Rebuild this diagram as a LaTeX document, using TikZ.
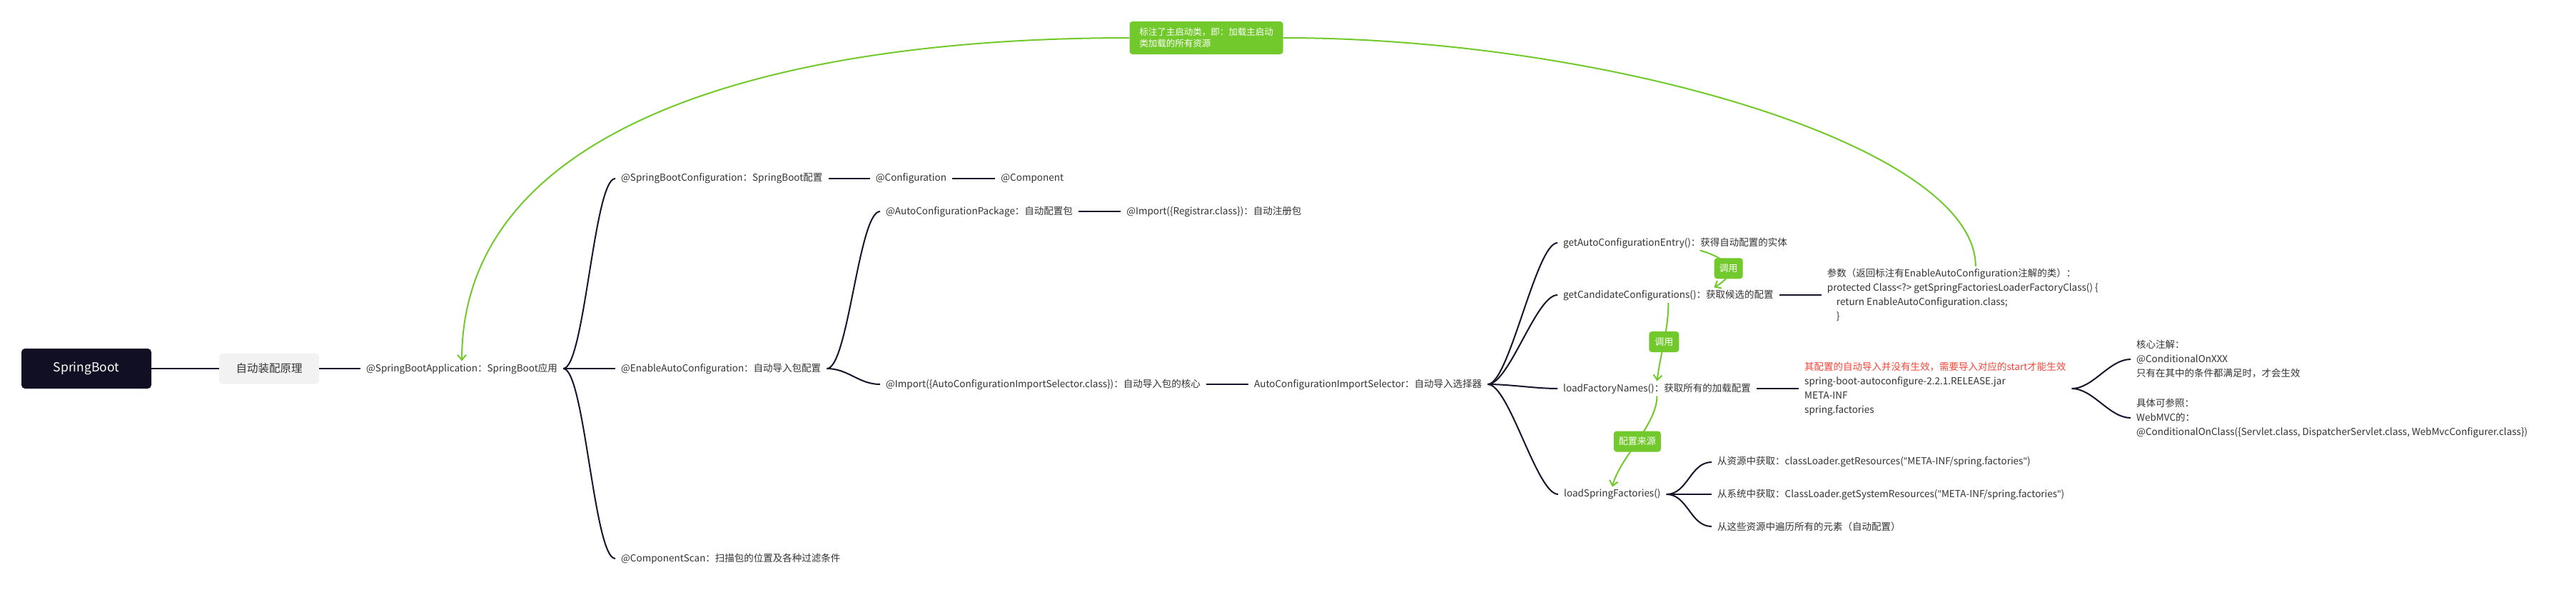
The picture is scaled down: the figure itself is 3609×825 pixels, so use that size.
\documentclass[tikz,border=0pt]{standalone}
\usepackage{fontspec}
\setmainfont{Noto Sans CJK SC}
\newfontfamily\quotefont{Noto Sans}
\newcommand\dquote{{\quotefont"}}
\usepackage{tikz}
\usetikzlibrary{positioning,arrows.meta}
\definecolor{ink}{HTML}{16152B}
\definecolor{rootbg}{HTML}{100F24}
\definecolor{themebg}{HTML}{F2F2F2}
\definecolor{txt}{HTML}{333333}
\definecolor{relgreen}{HTML}{72C92B}
\definecolor{warn}{HTML}{F4473A}
\tikzset{>={Straight Barb[length=7pt,width=12pt]}}
\tikzset{
  topic/.style={anchor=west, align=left, text=txt, inner xsep=8pt, inner ysep=3pt,
    font=\fontsize{13.5}{20}\selectfont},
  rootbox/.style={fill=rootbg, text=white, rounded corners=5pt, minimum width=182pt,
    minimum height=56pt, font=\fontsize{17.5}{20}\selectfont},
  themebox/.style={fill=themebg, text=txt, rounded corners=6pt, minimum width=140pt,
    minimum height=43pt, font=\fontsize{15.5}{20}\selectfont},
  trunk/.style={draw=ink, line width=2.6pt},
  branch/.style={draw=ink, line width=2pt},
  rel/.style={draw=relgreen, line width=2pt},
  tag/.style={fill=relgreen, text=white, rounded corners=4pt, inner sep=0pt,
    minimum height=29pt, font=\fontsize{13}{16}\selectfont},
}

\begin{document}
\begin{tikzpicture}[x=1pt,y=-1pt]
  \useasboundingbox[fill=white] (0,0) rectangle (3609,825);

  % Trunk
  \node[rootbox]  (root)  at (121,516) {SpringBoot};
  \node[themebox] (theme) at (377,516) {自动装配原理};
  \node[topic]    (app)   at (505,516) {@SpringBootApplication：SpringBoot应用};

  % Annotations of the application
  \node[topic] (sbconf) at (862,250) {@SpringBootConfiguration：SpringBoot配置};
  \node[topic, right=58pt of sbconf] (conf) {@Configuration};
  \node[topic, right=60pt of conf]   (comp) {@Component};
  \node[topic] (enable) at (862,516) {@EnableAutoConfiguration：自动导入包配置};
  \node[topic] (scan)   at (862,782) {@ComponentScan：扫描包的位置及各种过滤条件};

  \node[topic] (acpkg)     at (1233,296) {@AutoConfigurationPackage：自动配置包};
  \node[topic, right=59pt of acpkg] (registrar) {@Import(\{Registrar.class\})：自动注册包};
  \node[topic] (importsel) at (1233,538) {@Import(\{AutoConfigurationImportSelector.class\})：自动导入包的核心};
  \node[topic, right=59pt of importsel] (selector) {AutoConfigurationImportSelector：自动导入选择器};

  % Selector methods
  \node[topic] (entry) at (2182,340) {getAutoConfigurationEntry()：获得自动配置的实体};
  \node[topic] (cand)  at (2182,413) {getCandidateConfigurations()：获取候选的配置};
  \node[topic] (lfn)   at (2182,544) {loadFactoryNames()：获取所有的加载配置};
  \node[topic] (lsf)   at (2183,692) {loadSpringFactories()};

  \node[topic, right=59pt of cand] (param) {参数（返回标注有EnableAutoConfiguration注解的类）：\\
    protected Class<?> getSpringFactoriesLoaderFactoryClass() \{\\
    \hspace*{13pt}return EnableAutoConfiguration.class;\\
    \hspace*{13pt}\}};
  \node[topic, right=59pt of lfn] (jar) {\textcolor{warn}{其配置的自动导入并没有生效，需要导入对应的start才能生效}\\
    spring-boot-autoconfigure-2.2.1.RELEASE.jar\\
    META-INF\\
    spring.factories};
  \node[topic] (core)  at (2985,503) {核心注解：\\@ConditionalOnXXX\\只有在其中的条件都满足时，才会生效};
  \node[topic] (refer) at (2985,585) {具体可参照：\\WebMVC的：\\@ConditionalOnClass(\{Servlet.class, DispatcherServlet.class, WebMvcConfigurer.class\})};

  \node[topic] (res1) at (2398,647) {从资源中获取：classLoader.getResources(\dquote META-INF/spring.factories\dquote)};
  \node[topic] (res2) at (2398,692) {从系统中获取：ClassLoader.getSystemResources(\dquote META-INF/spring.factories\dquote)};
  \node[topic] (res3) at (2398,737) {从这些资源中遍历所有的元素（自动配置）};

  % Edges
  \draw[trunk] (root) -- (theme);
  \draw[trunk] (theme) -- (app);
  \foreach \c in {sbconf,enable,scan}
    \draw[branch] (app.east) .. controls +(30,0) and +(-30,0) .. (\c.west);
  \draw[branch] (sbconf) -- (conf);
  \draw[branch] (conf) -- (comp);
  \foreach \c in {acpkg,importsel}
    \draw[branch] (enable.east) .. controls +(30,0) and +(-30,0) .. (\c.west);
  \draw[branch] (acpkg) -- (registrar);
  \draw[branch] (importsel) -- (selector);
  \foreach \c in {entry,cand,lfn,lsf}
    \draw[branch] (selector.east) .. controls +(30,0) and +(-30,0) .. (\c.west);
  \draw[branch] (cand) -- (param);
  \draw[branch] (lfn) -- (jar);
  \foreach \c in {core,refer}
    \draw[branch] (jar.east) .. controls +(30,0) and +(-30,0) .. (\c.west);
  \foreach \c in {res1,res2,res3}
    \draw[branch] (lsf.east) .. controls +(30,0) and +(-30,0) .. (\c.west);

  % Relations
  \draw[rel, ->] ([xshift=35pt]entry.south) .. controls +(50,15) and +(30,-17) .. ([xshift=64pt]cand.north)
    node[tag, pos=0.5, minimum width=40pt] (call1) {调用};
  \draw[rel, ->] (cand.south) .. controls +(0,40) and +(5,-40) .. (lfn.north)
    node[tag, pos=0.5, minimum width=42pt] (call2) {调用};
  \draw[rel, ->] (lfn.south) .. controls +(0,40) and +(10,-40) .. (lsf.north)
    node[tag, pos=0.5, minimum width=66pt] (source) {配置来源};

  \node[tag, align=left, minimum width=215pt, minimum height=46pt,
    font=\fontsize{12.5}{16}\selectfont] (note) at (1690,53)
    {标注了主启动类，即：加载主启动\\类加载的所有资源};
  \draw[rel] ([xshift=18pt]param.north) .. controls +(0,-170) and +(450,0) .. (note.east);
  \draw[rel, ->] (note.west) .. controls +(-500,0) and +(0,-330) .. (app.north);

\end{tikzpicture}
\end{document}
